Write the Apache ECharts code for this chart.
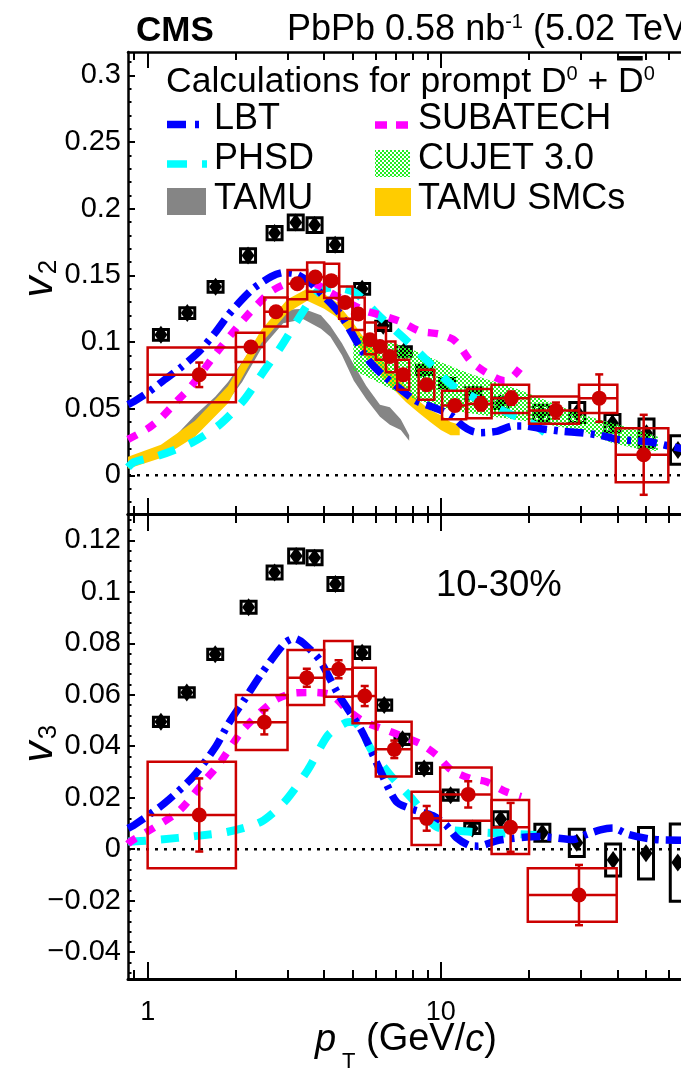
<!DOCTYPE html>
<html><head><meta charset="utf-8">
<script src="https://cdn.jsdelivr.net/npm/echarts@6/dist/echarts.min.js"></script>
<style>html,body{margin:0;padding:0;background:#fff}#c{width:681px;height:1071px}</style>
</head><body><div id="c"></div>
<script>
const FONT = '"Liberation Sans", Arial, Helvetica, sans-serif';

// ---------- axes ----------
const X_MIN = 0.857, X_MAX = 100;
const xMajorTicks = [1, 10, 100];
const xMinorTicks = [0.9, 2, 3, 4, 5, 6, 7, 8, 9, 20, 30, 40, 50, 60, 70, 80, 90];
const xTickLabels = [1, 10];
const v2Range = [-0.029, 0.3175];
const v3Range = [-0.0504, 0.1302];
const v2TickLabels = [0, 0.05, 0.1, 0.15, 0.2, 0.25, 0.3];
const v3TickLabels = [-0.04, -0.02, 0, 0.02, 0.04, 0.06, 0.08, 0.1, 0.12];

// ---------- v2 : D0 data (red) ----------
const v2D_x   = [1.5, 2.25, 2.74, 3.24, 3.73, 4.23, 4.71, 5.23, 5.73, 6.2, 6.7, 7.44, 8.94, 11.16, 13.7, 17.4, 24.7, 34.7, 49.2];
const v2D_y   = [0.0754, 0.0962, 0.1227, 0.1437, 0.1487, 0.146, 0.1296, 0.121, 0.1017, 0.0966, 0.0891, 0.0754, 0.0679, 0.0524, 0.0536, 0.0579, 0.0486, 0.0579, 0.0154];
const v2D_xlo = [1.0, 2.0, 2.5, 3.0, 3.5, 4.0, 4.5, 5.0, 5.5, 6.0, 6.5, 7.1, 8.4, 10.1, 12.3, 14.9, 20, 29.6, 39.5];
const v2D_xhi = [2.0, 2.5, 3.0, 3.5, 4.0, 4.5, 5.0, 5.5, 6.0, 6.5, 7.0, 7.8, 9.5, 12.2, 14.9, 20, 29.6, 40, 59.7];
const v2D_slo = [0.0549, 0.085, 0.1116, 0.132, 0.1377, 0.133, 0.1174, 0.109, 0.0909, 0.0866, 0.0774, 0.0641, 0.0566, 0.0421, 0.0429, 0.0467, 0.0386, 0.0467, -0.0051];
const v2D_shi = [0.0959, 0.107, 0.1334, 0.154, 0.1597, 0.1587, 0.1417, 0.1334, 0.1147, 0.1106, 0.1004, 0.0866, 0.0791, 0.0634, 0.0647, 0.0679, 0.0591, 0.0679, 0.0354];
const v2D_stat= [0.0092, 0.003, 0.003, 0.003, 0.003, 0.003, 0.003, 0.003, 0.003, 0.003, 0.003, 0.004, 0.004, 0.004, 0.005, 0.005, 0.006, 0.0178, 0.030];

// ---------- v2 : black reference points ----------
const v2H_x   = [1.11, 1.365, 1.705, 2.2, 2.71, 3.2, 3.71, 4.36, 5.39, 6.36, 7.48, 8.77, 10.5, 12.9, 15.97, 22.0, 29.2, 38.5, 50.3, 64.4];
const v2H_y   = [0.1054, 0.1217, 0.1414, 0.1649, 0.1817, 0.1897, 0.1877, 0.1729, 0.1399, 0.1121, 0.0929, 0.0791, 0.0691, 0.0617, 0.0541, 0.0466, 0.0471, 0.0391, 0.0316, 0.019];
const v2H_sys = [0.004, 0.004, 0.004, 0.005, 0.005, 0.0055, 0.0055, 0.005, 0.004, 0.0035, 0.0035, 0.0035, 0.0035, 0.004, 0.004, 0.006, 0.0075, 0.0066, 0.0106, 0.0106];

// ---------- v2 : models ----------
const lbt2_x = [0.857, 0.9, 1.0, 1.14, 1.3, 1.5, 1.7, 1.88, 2.1, 2.29, 2.64, 2.9, 3.2, 3.6, 4.0, 4.5, 4.9, 5.3, 5.73, 6.36, 7.34, 8.2, 9.17, 10.2, 11.0, 11.9, 12.8, 13.6, 15.5, 17.6, 19.5, 22, 26, 30, 35, 40, 46, 52, 60, 70];
const lbt2_y = [0.053, 0.0555, 0.062, 0.0716, 0.081, 0.093, 0.107, 0.120, 0.132, 0.140, 0.149, 0.152, 0.151, 0.144, 0.134, 0.122, 0.109, 0.096, 0.085, 0.075, 0.064, 0.056, 0.052, 0.048, 0.044, 0.037, 0.033, 0.032, 0.033, 0.037, 0.037, 0.035, 0.033, 0.032, 0.030, 0.027, 0.026, 0.025, 0.022, 0.019];
const sub2_x = [0.857, 1.0, 1.11, 1.25, 1.41, 1.69, 2.09, 2.34, 2.64, 3.0, 3.5, 4.2, 5.44, 6.5, 7.34, 8.5, 9.9, 11.0, 11.6, 12.6, 14.3, 16.5, 17.6, 18.6];
const sub2_y = [0.027, 0.035, 0.043, 0.055, 0.067, 0.090, 0.115, 0.127, 0.138, 0.144, 0.146, 0.137, 0.124, 0.119, 0.115, 0.108, 0.106, 0.102, 0.097, 0.086, 0.077, 0.071, 0.074, 0.080];
const phsd2_x = [0.857, 0.9, 1.1, 1.43, 1.76, 2.14, 2.47, 2.86, 3.39, 3.8, 4.3, 5.1, 6.2, 7.64, 9.17, 11.0, 14, 18.1, 21.2, 23.4];
const phsd2_y = [0.006, 0.010, 0.015, 0.025, 0.038, 0.057, 0.077, 0.097, 0.123, 0.138, 0.141, 0.137, 0.119, 0.101, 0.084, 0.067, 0.055, 0.044, 0.037, 0.029];
const cujet_x  = [5.03, 5.88, 6.88, 8.25, 10.2, 12.6, 15.1, 18.1, 21.8, 26, 30.5, 38.6, 47, 55];
const cujet_lo = [0.079, 0.0716, 0.064, 0.0566, 0.050, 0.0466, 0.044, 0.0416, 0.039, 0.036, 0.033, 0.024, 0.020, 0.018];
const cujet_hi = [0.106, 0.101, 0.0995, 0.093, 0.084, 0.076, 0.0704, 0.065, 0.058, 0.051, 0.0454, 0.039, 0.034, 0.029];
const tamu_x  = [1.0, 1.2, 1.45, 1.7, 1.88, 2.1, 2.44, 2.9, 3.4, 3.9, 4.2, 4.6, 5.05, 5.57, 6.2, 6.7, 7.3, 7.8];
const tamu_hi = [0.016, 0.026, 0.045, 0.059, 0.070, 0.085, 0.107, 0.124, 0.125, 0.120, 0.112, 0.099, 0.083, 0.067, 0.053, 0.051, 0.042, 0.030];
const tamu_lo = [0.012, 0.020, 0.032, 0.045, 0.056, 0.070, 0.095, 0.114, 0.117, 0.110, 0.104, 0.090, 0.071, 0.057, 0.044, 0.038, 0.034, 0.026];
const smc_x  = [0.857, 1.11, 1.45, 1.88, 2.44, 3.0, 3.5, 4.0, 4.4, 5.0, 5.6, 6.4, 7.0, 7.6, 8.4, 9.2, 10.0, 10.8, 11.6];
const smc_hi = [0.014, 0.023, 0.041, 0.067, 0.109, 0.132, 0.140, 0.136, 0.130, 0.115, 0.100, 0.085, 0.075, 0.066, 0.056, 0.049, 0.045, 0.040, 0.038];
const smc_lo = [0.005, 0.013, 0.029, 0.054, 0.099, 0.122, 0.131, 0.125, 0.119, 0.103, 0.088, 0.072, 0.063, 0.055, 0.047, 0.040, 0.034, 0.030, 0.030];

// ---------- v3 : D0 data (red) ----------
const v3D_x   = [1.5, 2.5, 3.49, 4.48, 5.5, 6.94, 8.95, 12.4, 17.3, 29.6];
const v3D_y   = [0.0133, 0.0493, 0.0666, 0.0699, 0.0595, 0.0388, 0.012, 0.0213, 0.0085, -0.0178];
const v3D_xlo = [1.0, 2.0, 3.0, 4.0, 5.0, 6.0, 7.95, 9.95, 14.9, 19.8];
const v3D_xhi = [2.0, 3.0, 4.0, 5.0, 6.0, 7.95, 10.0, 14.9, 20.0, 39.8];
const v3D_slo = [-0.0074, 0.0385, 0.056, 0.0592, 0.0489, 0.0282, 0.0016, 0.0111, -0.0019, -0.0282];
const v3D_shi = [0.034, 0.0599, 0.0774, 0.0809, 0.0705, 0.0495, 0.0223, 0.0317, 0.0191, -0.0074];
const v3D_stat= [0.0142, 0.0047, 0.0035, 0.0035, 0.0039, 0.0034, 0.0048, 0.0051, 0.0095, 0.0117];

// ---------- v3 : black reference points ----------
const v3H_x   = [1.11, 1.36, 1.70, 2.21, 2.71, 3.21, 3.71, 4.37, 5.39, 6.41, 7.4, 8.77, 10.8, 12.8, 16.0, 22.2, 29.1, 38.7, 50.1, 64.3];
const v3H_y   = [0.0495, 0.0609, 0.0757, 0.094, 0.1075, 0.1139, 0.1132, 0.103, 0.0763, 0.056, 0.0427, 0.0314, 0.021, 0.0081, 0.0116, 0.0064, 0.0025, -0.0042, -0.0016, -0.0052];
const v3H_sys = [0.0018, 0.0018, 0.002, 0.0023, 0.0025, 0.0027, 0.0027, 0.0025, 0.0022, 0.002, 0.002, 0.002, 0.002, 0.002, 0.003, 0.0033, 0.0053, 0.0062, 0.010, 0.015];

// ---------- v3 : models ----------
const lbt3_x = [0.857, 0.9, 1.14, 1.43, 1.71, 1.88, 2.15, 2.44, 2.93, 3.17, 3.4, 3.86, 4.45, 5.35, 6.2, 7.05, 8.0, 9.4, 10.4, 11.3, 12.5, 13.4, 15.9, 21.8, 28.3, 31, 35, 38.6, 43.5, 50.3, 57, 70];
const lbt3_y = [0.0081, 0.0094, 0.0178, 0.0282, 0.040, 0.0485, 0.0585, 0.068, 0.080, 0.0819, 0.080, 0.0735, 0.0605, 0.0463, 0.0308, 0.0185, 0.0155, 0.013, 0.0095, 0.0045, 0.0015, 0.0012, 0.0036, 0.0049, 0.0038, 0.0055, 0.0075, 0.0082, 0.0058, 0.0042, 0.0036, 0.0035];
const sub3_x = [0.857, 0.875, 1.11, 1.29, 1.59, 1.76, 2.11, 2.67, 3.09, 3.61, 4.23, 4.82, 5.49, 6.76, 8.48, 9.66, 10.85, 12.6, 14.3, 16.7, 18.8];
const sub3_y = [0.002, 0.003, 0.010, 0.0152, 0.0275, 0.0334, 0.0463, 0.0573, 0.0605, 0.0609, 0.0599, 0.054, 0.0495, 0.0456, 0.0411, 0.0366, 0.0308, 0.0275, 0.0262, 0.0223, 0.0204];
const phsd3_x = [0.857, 0.875, 1.11, 1.45, 1.88, 2.44, 2.93, 3.52, 4.12, 4.69, 5.05, 5.4, 5.8, 6.7, 8.05, 9.66, 12.6, 16.3, 21.2];
const phsd3_y = [0.003, 0.003, 0.0038, 0.0051, 0.0068, 0.0107, 0.0184, 0.0308, 0.0443, 0.0489, 0.0495, 0.0455, 0.0385, 0.029, 0.0191, 0.0087, 0.0068, 0.0062, 0.0055];

// ---------- helpers ----------
const C_RED = '#cc0000', C_BLUE = '#0000ff', C_MAG = '#ff00ff', C_CYAN = '#00ffff', C_GRAY = '#858585', C_ORANGE = '#ffcc00', C_GREEN = '#22ee22';
function checker() {
  const c = document.createElement('canvas'); c.width = 4; c.height = 4;
  const g = c.getContext('2d'); g.fillStyle = C_GREEN; g.fillRect(0, 0, 2, 2); g.fillRect(2, 2, 2, 2);
  return c;
}
const PATTERN = { type: 'pattern', image: checker(), repeat: 'repeat' };
const zip = (xs, ys) => xs.map((x, i) => [x, ys[i]]);
function range(a, b, step, skip) {
  const out = [];
  for (let v = a; v <= b + 1e-9; v += step) {
    const r = +v.toFixed(4);
    if (!skip.some(s => Math.abs(s - r) < 1e-7)) out.push(r);
  }
  return out;
}
const v2Minor = range(-0.02, 0.31, 0.01, v2TickLabels);
const v3Minor = range(-0.048, 0.128, 0.004, v3TickLabels);

function fmtY(v) {
  if (Math.abs(v) < 1e-9) return '0';
  const s = String(+Math.abs(v).toFixed(3));
  return v < 0 ? '\u2212' + s : s;
}
function xAx(grid, pos, ticks, len, labels, lineShow, lw) {
  return {
    type: 'log', logBase: 10, gridIndex: grid, position: pos, min: X_MIN, max: X_MAX,
    axisLine: { show: lineShow, onZero: false, lineStyle: { color: '#000', width: lw } },
    axisTick: { show: true, inside: true, length: len, customValues: ticks, lineStyle: { color: '#000', width: 2 } },
    axisLabel: labels ? { show: true, customValues: labels, formatter: v => String(v), fontSize: 27, color: '#000', fontFamily: FONT, margin: 20 } : { show: false },
    splitLine: { show: false }, minorTick: { show: false }, axisPointer: { show: false }
  };
}
function yAx(grid, rng, ticks, len, labels, lineShow) {
  return {
    type: 'value', gridIndex: grid, position: 'left', min: rng[0], max: rng[1],
    axisLine: { show: lineShow, onZero: false, lineStyle: { color: '#000', width: 2.5 } },
    axisTick: { show: true, inside: true, length: len, customValues: ticks, lineStyle: { color: '#000', width: 2 } },
    axisLabel: labels ? { show: true, customValues: labels, formatter: fmtY, fontSize: 29, color: '#000', fontFamily: FONT, margin: 7 } : { show: false },
    splitLine: { show: false }, axisPointer: { show: false }
  };
}
function lineSeries(xi, yi, xs, ys, color, dash, w, z) {
  return { type: 'line', xAxisIndex: xi, yAxisIndex: yi, data: zip(xs, ys), smooth: 0.25, showSymbol: false, symbol: 'none', z: z || 4,
    lineStyle: { color, width: w, type: dash, cap: 'butt' }, silent: true, clip: true };
}
function bandSeries(xi, yi, xs, lo, hi, fill, z) {
  return { type: 'custom', xAxisIndex: xi, yAxisIndex: yi, z, clip: true, silent: true,
    data: [[xs[0], lo[0]]], encode: { x: 0, y: 1 },
    renderItem(params, api) {
      const pts = [];
      for (let i = 0; i < xs.length; i++) pts.push(api.coord([xs[i], hi[i]]));
      for (let i = xs.length - 1; i >= 0; i--) pts.push(api.coord([xs[i], lo[i]]));
      return { type: 'polygon', shape: { points: pts }, style: { fill, stroke: null } };
    } };
}
function redSeries(xi, yi, X, Y, XL, XH, SL, SH, ST) {
  const data = X.map((x, i) => [x, Y[i], XL[i], XH[i], SL[i], SH[i], ST[i]]);
  return { type: 'custom', xAxisIndex: xi, yAxisIndex: yi, z: 8, data, encode: { x: 0, y: 1 }, clip: false, silent: true,
    renderItem(params, api) {
      const x = api.value(0), y = api.value(1), st = api.value(6);
      const p = api.coord([x, y]);
      const tl = api.coord([api.value(2), api.value(5)]);
      const br = api.coord([api.value(3), api.value(4)]);
      const su = api.coord([x, y + st]), sd = api.coord([x, y - st]);
      const S = { stroke: C_RED, lineWidth: 2.5, fill: null };
      return { type: 'group', children: [
        { type: 'rect', shape: { x: tl[0], y: tl[1], width: br[0] - tl[0], height: br[1] - tl[1] }, style: S },
        { type: 'line', shape: { x1: tl[0], y1: p[1], x2: br[0], y2: p[1] }, style: S },
        { type: 'line', shape: { x1: p[0], y1: su[1], x2: p[0], y2: sd[1] }, style: S },
        { type: 'line', shape: { x1: p[0] - 4, y1: su[1], x2: p[0] + 4, y2: su[1] }, style: S },
        { type: 'line', shape: { x1: p[0] - 4, y1: sd[1], x2: p[0] + 4, y2: sd[1] }, style: S },
        { type: 'circle', shape: { cx: p[0], cy: p[1], r: 7.5 }, style: { fill: C_RED } }
      ] };
    } };
}
function blackSeries(xi, yi, X, Y, SYS) {
  const data = X.map((x, i) => [x, Y[i], SYS[i]]);
  return { type: 'custom', xAxisIndex: xi, yAxisIndex: yi, z: 2, data, encode: { x: 0, y: 1 }, clip: true, silent: true,
    renderItem(params, api) {
      const x = api.value(0), y = api.value(1), s = api.value(2);
      const p = api.coord([x, y]), u = api.coord([x, y + s]), d = api.coord([x, y - s]);
      return { type: 'group', children: [
        { type: 'rect', shape: { x: p[0] - 7.5, y: u[1], width: 15, height: d[1] - u[1] }, style: { fill: null, stroke: '#000', lineWidth: 3 } },
        { type: 'polygon', shape: { points: [[p[0], p[1] - 9], [p[0] + 6.5, p[1]], [p[0], p[1] + 9], [p[0] - 6.5, p[1]]] }, style: { fill: '#000' } }
      ] };
    } };
}
function zeroLine(xi, yi) {
  return { type: 'line', xAxisIndex: xi, yAxisIndex: yi, data: [[X_MIN, 0], [X_MAX, 0]], showSymbol: false, symbol: 'none', z: 1, silent: true,
    lineStyle: { color: '#000', width: 2.5, type: [3, 6], cap: 'butt' } };
}

// text measurement for the D-bar overline in the legend header
function tw(txt, font) { const g = document.createElement('canvas').getContext('2d'); g.font = font; return g.measureText(txt).width; }
const HDR_X = 166, HDR_FS = 35.5, HDR_SUP = 20;
const dbarX = HDR_X + tw('Calculations for prompt D', HDR_FS + 'px ' + FONT) + tw('0', HDR_SUP + 'px ' + FONT) + tw(' + ', HDR_FS + 'px ' + FONT);
const dbarW = tw('D', HDR_FS + 'px ' + FONT);

function txt(x, y, text, fs, extra) {
  extra = extra || {};
  return { type: 'text', x, y, silent: true, z: 100, rotation: extra.rotation || 0,
    style: Object.assign({ text, fill: '#000', fontSize: fs, fontFamily: FONT, align: 'left', verticalAlign: 'middle' }, extra.style || {}) };
}

const graphics = [
  txt(136, 31, 'CMS', 35, { style: { fontWeight: 'bold' } }),
  { type: 'text', x: 287, y: 12, silent: true, z: 100, style: { text: '{n|PbPb 0.58 nb}{s|-1}{n| (5.02 TeV)}', fontFamily: FONT, fill: '#000', align: 'left', verticalAlign: 'top',
    rich: { n: { fontSize: 36, fontFamily: FONT, verticalAlign: 'top', lineHeight: 36 }, s: { fontSize: 20, fontFamily: FONT, verticalAlign: 'top', lineHeight: 36 } } } },
  { type: 'text', x: HDR_X, y: 64, silent: true, z: 100, style: { text: '{n|Calculations for prompt D}{s|0}{n| + D}{s|0}', fontFamily: FONT, fill: '#000', align: 'left', verticalAlign: 'top',
    rich: { n: { fontSize: HDR_FS, fontFamily: FONT, verticalAlign: 'top', lineHeight: 36 }, s: { fontSize: HDR_SUP, fontFamily: FONT, verticalAlign: 'top', lineHeight: 36 } } } },
  { type: 'rect', silent: true, z: 100, shape: { x: dbarX - 1, y: 56, width: dbarW, height: 4.5 }, style: { fill: '#000' } },
  // legend symbols
  { type: 'line', silent: true, z: 100, shape: { x1: 167, y1: 124.5, x2: 201, y2: 124.5 }, style: { stroke: C_BLUE, lineWidth: 7.5, lineDash: [19, 9, 4, 20] } },
  { type: 'line', silent: true, z: 100, shape: { x1: 167, y1: 164, x2: 207, y2: 164 }, style: { stroke: C_CYAN, lineWidth: 7.5, lineDash: [20, 15] } },
  { type: 'line', silent: true, z: 100, shape: { x1: 375, y1: 125, x2: 408, y2: 125 }, style: { stroke: C_MAG, lineWidth: 7.5, lineDash: [12, 9] } },
  { type: 'rect', silent: true, z: 100, shape: { x: 375, y: 150, width: 35, height: 27 }, style: { fill: PATTERN } },
  { type: 'rect', silent: true, z: 100, shape: { x: 167, y: 188, width: 39, height: 27 }, style: { fill: C_GRAY } },
  { type: 'rect', silent: true, z: 100, shape: { x: 375, y: 188, width: 36, height: 28 }, style: { fill: C_ORANGE } },
  txt(214, 119, 'LBT', 36), txt(418, 119, 'SUBATECH', 36),
  txt(214, 159, 'PHSD', 36), txt(418, 159, 'CUJET 3.0', 36),
  txt(214, 199, 'TAMU', 36), txt(418, 199, 'TAMU SMCs', 36),
  txt(436, 586, '10-30%', 36.5),
  // axis titles
  txt(40, 287, 'v', 42, { rotation: Math.PI / 2, style: { fontStyle: 'italic', align: 'center' } }),
  txt(49, 267, '2', 26, { rotation: Math.PI / 2, style: { align: 'center' } }),
  txt(40, 752, 'v', 42, { rotation: Math.PI / 2, style: { fontStyle: 'italic', align: 'center' } }),
  txt(49, 732, '3', 26, { rotation: Math.PI / 2, style: { align: 'center' } }),
  txt(315, 1040, 'p', 38, { style: { fontStyle: 'italic' } }),
  txt(342, 1062, 'T', 22),
  { type: 'text', x: 366, y: 1040, silent: true, z: 100, style: { text: '{n|(GeV/}{i|c}{n|)}', fontFamily: FONT, fill: '#000', align: 'left', verticalAlign: 'middle',
    rich: { n: { fontSize: 38, fontFamily: FONT }, i: { fontSize: 38, fontFamily: FONT, fontStyle: 'italic' } } } }
];

const option = {
  animation: false,
  textStyle: { fontFamily: FONT },
  grid: [
    { left: 128, top: 52, width: 606, height: 462, outerBoundsMode: 'none', containLabel: false },
    { left: 128, top: 514, width: 606, height: 465, outerBoundsMode: 'none', containLabel: false }
  ],
  xAxis: [
    xAx(0, 'bottom', xMajorTicks, 16, null, true, 3),
    xAx(0, 'bottom', xMinorTicks, 8, null, false, 3),
    xAx(0, 'top', xMajorTicks, 16, null, true, 2.5),
    xAx(0, 'top', xMinorTicks, 8, null, false, 2.5),
    xAx(1, 'bottom', xMajorTicks, 17, xTickLabels, true, 3),
    xAx(1, 'bottom', xMinorTicks, 9, null, false, 3),
    xAx(1, 'top', xMajorTicks, 17, null, true, 3),
    xAx(1, 'top', xMinorTicks, 9, null, false, 3)
  ],
  yAxis: [
    yAx(0, v2Range, v2TickLabels, 7, v2TickLabels, true),
    yAx(0, v2Range, v2Minor, 3.5, null, false),
    yAx(1, v3Range, v3TickLabels, 7, v3TickLabels, true),
    yAx(1, v3Range, v3Minor, 3.5, null, false)
  ],
  series: [
    zeroLine(0, 0),
    zeroLine(4, 2),
    blackSeries(0, 0, v2H_x, v2H_y, v2H_sys),
    bandSeries(0, 0, tamu_x, tamu_lo, tamu_hi, C_GRAY, 3),
    bandSeries(0, 0, smc_x, smc_lo, smc_hi, C_ORANGE, 3),
    bandSeries(0, 0, cujet_x, cujet_lo, cujet_hi, PATTERN, 3),
    lineSeries(0, 0, phsd2_x, phsd2_y, C_CYAN, [18, 15], 8),
    lineSeries(0, 0, sub2_x, sub2_y, C_MAG, [10, 11], 7.5),
    lineSeries(0, 0, lbt2_x, lbt2_y, C_BLUE, [19, 7, 4, 7], 7.5),
    redSeries(0, 0, v2D_x, v2D_y, v2D_xlo, v2D_xhi, v2D_slo, v2D_shi, v2D_stat),
    blackSeries(4, 2, v3H_x, v3H_y, v3H_sys),
    lineSeries(4, 2, phsd3_x, phsd3_y, C_CYAN, [18, 15], 8),
    lineSeries(4, 2, sub3_x, sub3_y, C_MAG, [10, 11], 7.5),
    lineSeries(4, 2, lbt3_x, lbt3_y, C_BLUE, [19, 7, 4, 7], 7.5),
    redSeries(4, 2, v3D_x, v3D_y, v3D_xlo, v3D_xhi, v3D_slo, v3D_shi, v3D_stat)
  ],
  graphic: { elements: graphics }
};
const chart = echarts.init(document.getElementById('c'), null, { renderer: 'canvas' });
chart.setOption(option);
</script>
</body></html>
